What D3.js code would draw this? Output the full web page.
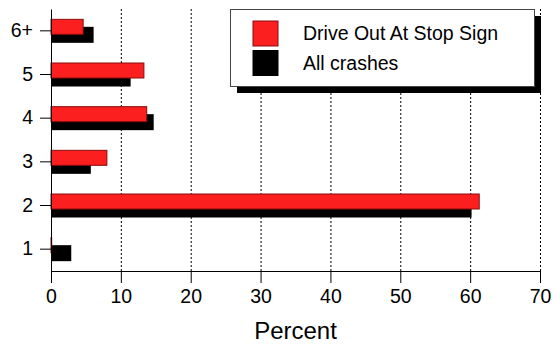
<html>
<head>
    <meta charset="UTF-8" />
    <script src="https://d3js.org/d3.v7.min.js"></script>
    <style>
        body { margin: 0; background: white; }
        text { font-family: "Liberation Sans", Arial, sans-serif; fill: black; }
        .gridlines line { stroke: black; stroke-dasharray: 2,2; }
        .gridlines .domain { stroke: none; }
        .axis .domain { stroke: black; stroke-width: 1; }
        .axis line { stroke: black; }
    </style>
</head>
<body>
    <svg height="345" width="554" id="svg"></svg>
    <script>
        // data
        const categories = ["6+", "5", "4", "3", "2", "1"];
        const stopSign = [4.6, 13.3, 13.7, 8.0, 61.3, 0.1];
        const allCrashes = [6.1, 11.4, 14.7, 5.7, 60.2, 2.9];
        const xTicks = [0, 10, 20, 30, 40, 50, 60, 70];
        const seriesNames = ["Drive Out At Stop Sign", "All crashes"];
        const seriesColors = ["#fb1f1f", "black"];

        const svg = d3.select("svg#svg");
        const width = svg.attr("width");
        const height = svg.attr("height");
        const margin = {top: 9, right: 14, bottom: 74, left: 51};
        const chartWidth = width - margin.left - margin.right;
        const chartHeight = height - margin.top - margin.bottom;

        const xScale = d3.scaleLinear().domain([0, 70]).range([0, chartWidth]);
        const yScale = d3.scaleBand().domain(categories).range([0, chartHeight]);

        const chart = svg.append("g")
            .attr("transform", "translate(" + margin.left + "," + margin.top + ")");

        // dotted gridlines
        chart.append("g")
            .attr("class", "gridlines")
            .call(d3.axisBottom(xScale).tickValues(xTicks.slice(1)).tickSize(chartHeight).tickFormat(""));

        // bars
        const rows = categories.map((c, i) => ({cat: c, red: stopSign[i], black: allCrashes[i]}));
        const center = d => yScale(d.cat) + yScale.bandwidth() / 2;

        chart.selectAll("rect.all").data(rows)
            .join("rect")
            .attr("class", "all")
            .attr("x", 0)
            .attr("y", d => center(d) - 4)
            .attr("width", d => xScale(d.black))
            .attr("height", 16)
            .attr("fill", seriesColors[1]);

        chart.selectAll("rect.stop").data(rows)
            .join("rect")
            .attr("class", "stop")
            .attr("x", 0)
            .attr("y", d => center(d) - 11.5)
            .attr("width", d => xScale(d.red))
            .attr("height", 15)
            .attr("fill", seriesColors[0])
            .attr("stroke", "#8a0c0c")
            .attr("stroke-width", 1);

        // axes
        chart.append("g")
            .attr("class", "axis")
            .attr("transform", "translate(0," + chartHeight + ")")
            .call(d3.axisBottom(xScale).tickValues(xTicks).tickSize(12).tickSizeOuter(0).tickPadding(6))
            .call(g => g.selectAll("text").attr("font-size", 19.5).style("font-family", "Liberation Sans, Arial, sans-serif"));

        chart.append("g")
            .attr("class", "axis")
            .call(d3.axisLeft(yScale).tickSize(11).tickSizeOuter(0).tickPadding(7))
            .call(g => g.selectAll("text").attr("font-size", 19.5).style("font-family", "Liberation Sans, Arial, sans-serif"));

        // x axis label
        svg.append("text")
            .attr("text-anchor", "middle")
            .attr("x", margin.left + chartWidth / 2)
            .attr("y", 339)
            .attr("font-size", 24)
            .text("Percent");

        // legend
        const legend = svg.append("g").attr("transform", "translate(230,9)");
        legend.append("rect")
            .attr("x", 7).attr("y", 7)
            .attr("width", 304).attr("height", 77)
            .attr("fill", "black");
        legend.append("rect")
            .attr("x", 0.5).attr("y", 0.5)
            .attr("width", 304).attr("height", 77)
            .attr("fill", "white")
            .attr("stroke", "#444");
        seriesNames.forEach((name, i) => {
            legend.append("rect")
                .attr("x", 23).attr("y", 12 + i * 29.5)
                .attr("width", 25).attr("height", 25)
                .attr("fill", seriesColors[i])
                .attr("stroke", i === 0 ? "#8a0c0c" : "black");
            legend.append("text")
                .attr("x", 73).attr("y", 31 + i * 29.5)
                .attr("font-size", 19.5)
                .text(name);
        });
    </script>
</body>
</html>
